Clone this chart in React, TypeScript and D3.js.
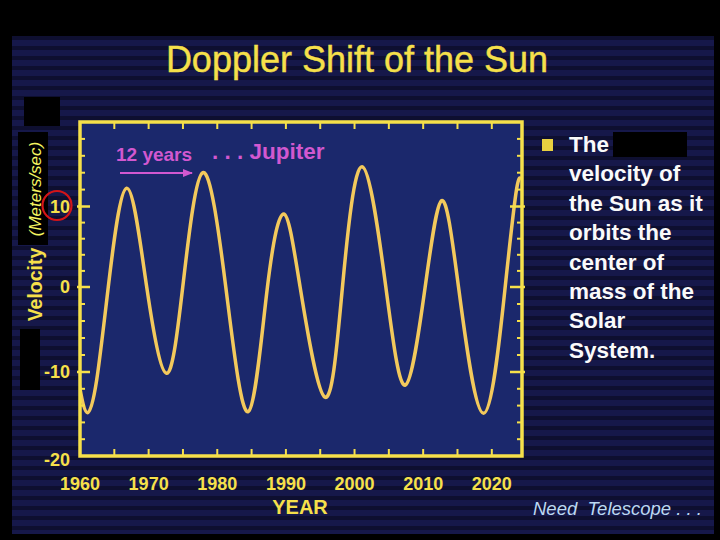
import React from "react";
import * as d3 from "d3";

// Curve anchor points (peaks, troughs, zero crossings)
const years = [1959.2, 1960.0, 1961.1, 1962.43, 1964.12, 1966.8, 1969.72, 1972.6, 1974.97, 1977.9, 1981.24, 1984.5, 1987.31, 1989.7, 1992.07, 1995.7, 1998.24, 2001.1, 2004.56, 2007.4, 2010.29, 2012.7, 2015.15, 2018.8, 2021.95, 2023.6, 2024.3];
const velocity = [-8.0, -12.0, -14.85, -10.95, 0, 12.15, 0, -10.15, 0, 14.0, 0, -14.73, 0, 9.07, 0, -13.0, 0, 14.7, 0, -11.55, 0, 10.7, 0, -14.92, 0, 12.0, 13.2];

const yearLabels = [1960, 1970, 1980, 1990, 2000, 2010, 2020];
const yearMinorTicks = [1965, 1970, 1975, 1980, 1985, 1990, 1995, 2000, 2005, 2010, 2015, 2020];
const velocityLabels = [10, 0, -10, -20];
const velocityMinorTicks = [-18, -16, -14, -12, -8, -6, -4, -2, 2, 4, 6, 8, 12, 14, 16, 18];
const velocityMajorTicks = [-10, 0, 10];
const bulletLines = ["The", "velocity of", "the Sun as it", "orbits the", "center of", "mass of the", "Solar", "System."];

const W = 720;
const H = 540;
const plot = { left: 80, right: 522, top: 122, bottom: 456 };
const FONT = "'Liberation Sans', Arial, Helvetica, sans-serif";
const YELLOW = "#f6e04a";
const CURVE = "#f3c95c";
const MAGENTA = "#d258d0";

export default function App() {
  const x = d3.scaleLinear().domain([1960, 2024.4]).range([plot.left, plot.right]);
  // photographed slide: tick spacing is slightly uneven, so a piecewise-linear scale
  const y = d3.scaleLinear().domain([-20, -10, 0, 10, 20]).range([plot.bottom, 372, 287, 206.5, plot.top]);
  const data = years.map((yr, i) => ({ yr, v: velocity[i] }));
  const line = d3
    .line<{ yr: number; v: number }>()
    .x((d) => x(d.yr))
    .y((d) => y(d.v))
    .curve(d3.curveNatural);

  const bulletBase = 152;
  const bulletStep = 29.4;

  return (
    <div style={{ position: "fixed", left: 0, top: 0, width: W, height: H }}>
      <svg width={W} height={H} viewBox={`0 0 ${W} ${H}`} style={{ display: "block" }}>
        <defs>
          <pattern id="scan" x="0" y="0" width="10" height="10" patternUnits="userSpaceOnUse">
            <rect x="0" y="0" width="10" height="10" fill="#16184a" />
            <rect x="0" y="6" width="10" height="4" fill="#0e0f30" />
          </pattern>
          <clipPath id="plotClip">
            <rect x={plot.left} y={plot.top} width={plot.right - plot.left} height={plot.bottom - plot.top} />
          </clipPath>
          <marker id="arrow" viewBox="0 0 10 10" refX="9" refY="5" markerWidth="5" markerHeight="5" orient="auto">
            <path d="M0,1 L10,5 L0,9 z" fill={MAGENTA} />
          </marker>
        </defs>

        <rect x="0" y="0" width={W} height={H} fill="#000" />
        <rect x="12" y="36" width="702" height="498" fill="url(#scan)" />

        {/* Title */}
        <text x="357" y="72" textAnchor="middle" fontFamily={FONT} fontSize="36" fill={YELLOW} stroke={YELLOW} strokeWidth="0.4">
          Doppler Shift of the Sun
        </text>

        {/* Plot area */}
        <rect x={plot.left} y={plot.top} width={plot.right - plot.left} height={plot.bottom - plot.top} fill="#1b286c" />

        {/* Curve */}
        <path d={line(data) || ""} fill="none" stroke={CURVE} strokeWidth="3.5" clipPath="url(#plotClip)" />

        {/* Ticks: top & bottom */}
        {yearMinorTicks.map((t) => (
          <g key={"xt" + t}>
            <line x1={x(t)} x2={x(t)} y1={plot.bottom} y2={plot.bottom - 7} stroke={YELLOW} strokeWidth="2" />
            <line x1={x(t)} x2={x(t)} y1={plot.top} y2={plot.top + 7} stroke={YELLOW} strokeWidth="2" />
          </g>
        ))}
        {/* Ticks: left & right */}
        {velocityMinorTicks.map((t) => (
          <g key={"ym" + t}>
            <line x1={plot.left} x2={plot.left + 5} y1={y(t)} y2={y(t)} stroke={YELLOW} strokeWidth="2" />
            <line x1={plot.right} x2={plot.right - 5} y1={y(t)} y2={y(t)} stroke={YELLOW} strokeWidth="2" />
          </g>
        ))}
        {velocityMajorTicks.map((t) => (
          <g key={"yM" + t}>
            <line x1={plot.left - 3} x2={plot.left + 10} y1={y(t)} y2={y(t)} stroke={YELLOW} strokeWidth="2.5" />
            <line x1={plot.right + 3} x2={plot.right - 12} y1={y(t)} y2={y(t)} stroke={YELLOW} strokeWidth="2.5" />
          </g>
        ))}

        {/* Frame */}
        <rect x={plot.left} y={plot.top} width={plot.right - plot.left} height={plot.bottom - plot.top} fill="none" stroke={YELLOW} strokeWidth="3.5" />

        {/* Y tick labels */}
        {velocityLabels.map((t) => (
          <text key={"yl" + t} x={70} y={y(t) + (t === -20 ? 4 : 0)} dy="0.35em" textAnchor="end" fontFamily={FONT} fontWeight="bold" fontSize="18" fill={YELLOW}>
            {t}
          </text>
        ))}
        {/* X tick labels */}
        {yearLabels.map((t) => (
          <text key={"xl" + t} x={x(t)} y={484} dy="0.35em" textAnchor="middle" fontFamily={FONT} fontWeight="bold" fontSize="18" fill={YELLOW}>
            {t}
          </text>
        ))}
        <text x={300} y={507} dy="0.35em" textAnchor="middle" fontFamily={FONT} fontWeight="bold" fontSize="20" fill={YELLOW}>
          YEAR
        </text>

        {/* Y axis title */}
        <rect x="24" y="97" width="36" height="29" fill="#000" />
        <rect x="18" y="132" width="30" height="113" fill="#000" />
        <text transform="translate(41,189) rotate(-90)" textAnchor="middle" fontFamily={FONT} fontStyle="italic" fontSize="17" fill="#f4f460">
          (Meters/sec)
        </text>
        <text transform="translate(42,284.5) rotate(-90)" textAnchor="middle" fontFamily={FONT} fontWeight="bold" fontSize="19.5" fill={YELLOW}>
          Velocity
        </text>
        <rect x="20" y="329" width="20" height="61" fill="#000" />
        <circle cx="57" cy={y(10) - 1} r="14.5" fill="none" stroke="#d41418" strokeWidth="2.2" />

        {/* Annotation */}
        <text x="116" y="160.5" fontFamily={FONT} fontWeight="bold" fontSize="19" fill={MAGENTA}>
          12 years
        </text>
        <text x="212" y="159" fontFamily={FONT} fontWeight="bold" fontSize="22.5" fill={MAGENTA}>
          . . . Jupiter
        </text>
        <line x1="120" x2="192" y1="173" y2="173" stroke={MAGENTA} strokeWidth="2" markerEnd="url(#arrow)" />

        {/* Bullet text */}
        <rect x="542" y="139" width="11" height="12" fill="#e8d040" />
        {bulletLines.map((s, i) => (
          <text key={"b" + i} x="569" y={bulletBase + i * bulletStep} fontFamily={FONT} fontWeight="bold" fontSize="22.5" fill="#fafafa">
            {s}
          </text>
        ))}
        <rect x="613" y="132" width="74" height="25" fill="#000" />

        {/* Footer */}
        <text x="533" y="515" fontFamily={FONT} fontStyle="italic" fontSize="18.5" fill="#bcd8f2">
          Need&#160; Telescope . . .
        </text>
      </svg>
    </div>
  );
}
